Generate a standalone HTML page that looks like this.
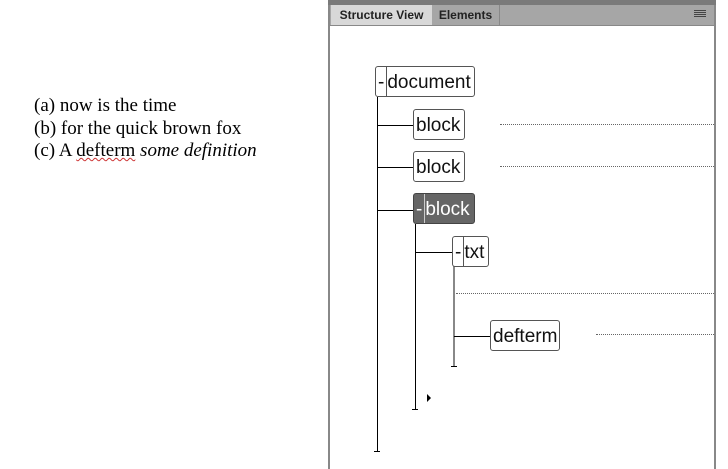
<!DOCTYPE html>
<html><head><style>
body{margin:0;width:728px;height:469px;background:#fff;position:relative;overflow:hidden;font-family:"Liberation Sans",sans-serif}
.a{position:absolute}
.t{font-family:"Liberation Serif",serif;font-size:19px;left:34px;line-height:22.5px}
.n{position:absolute;border:1px solid #555;border-radius:3px;background:#fff;font-size:19px;line-height:31px;height:29px;box-sizing:content-box;white-space:nowrap;color:#111;overflow:hidden}
.m{display:inline-block;border-right:1px solid #555;padding:0 2px;height:29px;line-height:31px;vertical-align:top}
.l{position:absolute;background:#000}
.d{position:absolute;border-top:1px dotted #666;height:0}
</style></head><body>
<div class="a t" style="top:95px">(a) now is the time<br>(b) for the quick brown fox<br>(c) A <span style="text-decoration:underline wavy #c33;text-decoration-thickness:1px">defterm</span> <i>some definition</i></div>

<div class="a" style="left:328px;top:0;width:388px;height:469px;background:#fff;border-left:2px solid #888;border-right:2px solid #888;box-sizing:border-box"></div>
<div class="a" style="left:328px;top:0;width:388px;height:5px;background:#7a7a7a"></div>
<div class="a" style="left:330px;top:5px;width:384px;height:20px;background:#a6a6a6;border-bottom:1px solid #888"></div>
<div class="a" style="left:331px;top:5px;width:101px;height:20px;background:#d8d8d8;font-size:12px;font-weight:bold;line-height:20px;text-align:center;color:#222">Structure View</div>
<div class="a" style="left:432px;top:5px;width:67px;height:20px;border-right:1px solid #888;font-size:12px;font-weight:bold;line-height:20px;text-align:center;color:#222">Elements</div>
<div class="a" style="left:694px;top:10px;width:12px;height:1px;background:#444;box-shadow:0 2px #444,0 4px #444,0 6px #444"></div>

<div class="l" style="left:377px;top:97px;width:1px;height:355px"></div>
<div class="l" style="left:374px;top:451px;width:6px;height:1px"></div>
<div class="l" style="left:377px;top:125px;width:36px;height:1px"></div>
<div class="l" style="left:377px;top:167px;width:36px;height:1px"></div>
<div class="l" style="left:377px;top:210px;width:36px;height:1px"></div>
<div class="l" style="left:415px;top:224px;width:1px;height:186px"></div>
<div class="l" style="left:412px;top:409px;width:6px;height:1px"></div>
<div class="l" style="left:415px;top:252px;width:37px;height:1px"></div>
<div class="l" style="left:453px;top:266px;width:2px;height:101px;background:#888"></div>
<div class="l" style="left:451px;top:366px;width:6px;height:1px"></div>
<div class="l" style="left:454px;top:336px;width:36px;height:1px"></div>
<div class="a" style="left:427px;top:394px;width:0;height:0;border-left:4px solid #000;border-top:4px solid transparent;border-bottom:4px solid transparent"></div>

<div class="d" style="left:500px;top:124px;width:214px"></div>
<div class="d" style="left:500px;top:166px;width:214px"></div>
<div class="d" style="left:456px;top:293px;width:258px"></div>
<div class="d" style="left:596px;top:334px;width:118px"></div>

<div class="n" style="left:375px;top:66px;width:98px"><span class="m">-</span>document</div>
<div class="n" style="left:413px;top:109px;width:50px;text-indent:2px">block</div>
<div class="n" style="left:413px;top:151px;width:50px;text-indent:2px">block</div>
<div class="n" style="left:413px;top:193px;width:60px;background:#666;color:#fff;border-color:#444"><span class="m" style="border-color:#ccc">-</span>block</div>
<div class="n" style="left:452px;top:236px;width:35px"><span class="m">-</span>txt</div>
<div class="n" style="left:490px;top:320px;width:68px;text-indent:2px">defterm</div>
</body></html>
